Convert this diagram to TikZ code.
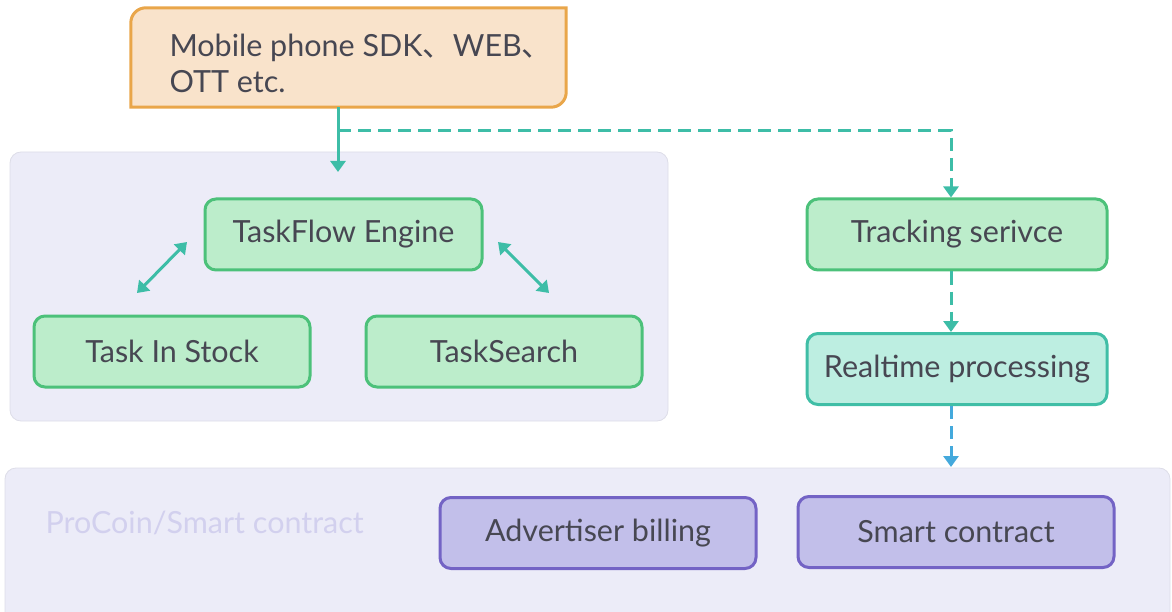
\documentclass[tikz,border=0pt]{standalone}
\usepackage{fontspec}
\setmainfont{Lato}
\newfontfamily\cjk{Noto Sans CJK SC}
\usetikzlibrary{arrows.meta}
\definecolor{txtgray}{HTML}{474752}
\definecolor{srcfill}{HTML}{F9E3CB}
\definecolor{srcline}{HTML}{E9A64A}
\definecolor{panfill}{HTML}{ECECF8}
\definecolor{panline}{HTML}{DDDDE8}
\definecolor{grnfill}{HTML}{BCEDCB}
\definecolor{grnline}{HTML}{4CC17A}
\definecolor{tealfill}{HTML}{BDEEE1}
\definecolor{tealline}{HTML}{40BEA6}
\definecolor{purfill}{HTML}{C2BFEA}
\definecolor{purline}{HTML}{7363C5}
\definecolor{arrteal}{HTML}{3DBDA7}
\definecolor{arrblue}{HTML}{44A9DC}
\definecolor{paneltxt}{HTML}{D2D0EE}
\tikzset{
  every node/.style={font=\fontsize{30.5}{36}\selectfont,text=txtgray},
  grnbox/.style={draw=grnline,fill=grnfill,line width=3pt,rounded corners=11pt,
    minimum width=#1,minimum height=71pt,inner sep=0pt},
  tealbox/.style={grnbox=#1,draw=tealline,fill=tealfill},
  purbox/.style={grnbox=#1,draw=purline,fill=purfill},
  panel/.style={draw=panline,fill=panfill,line width=0.8pt,rounded corners=11pt},
  flow/.style={draw=arrteal,line width=3pt,-{Triangle[length=11pt,width=15pt]}},
  dflow/.style={flow,dash pattern=on 13pt off 7pt},
  both/.style={flow,{Triangle[length=11pt,width=15pt]}-{Triangle[length=11pt,width=15pt]}}
}
\begin{document}
\begin{tikzpicture}[x=1pt,y=-1pt]
\useasboundingbox (0,0) rectangle (1172,612);

% panels
\draw[panel] (10,152) rectangle (668,421);
\draw[panel] (5,468) rectangle (1170,625);

% source box
\node[minimum width=435pt,minimum height=99pt,inner sep=0pt] (src) at (348.5,57.5) {};
\fill[srcfill,draw=srcline,line width=3pt] (src.south west) -- ([yshift=-15pt]src.north west)
  arc[start angle=180,end angle=90,radius=15pt] -- (src.north east)
  -- ([yshift=15pt]src.south east) arc[start angle=0,end angle=-90,radius=15pt] -- cycle;
\node[anchor=north west,align=left] (srctxt) at (166,31) {Mobile phone SDK{\cjk 、}WEB{\cjk 、}\\OTT etc.};

% left part
\node[grnbox=277pt] (engine) at (343.5,234.5) {TaskFlow Engine};
\node[grnbox=276pt] (stock) at (172,351.5) {Task In Stock};
\node[grnbox=276pt] (search) at (504,351.5) {TaskSearch};

% right part
\node[grnbox=300pt] (track) at (957,234.5) {Tracking serivce};
\node[tealbox=300pt] (rt) at (957,369) {Realtime processing};

% bottom part
\node[anchor=west,text=paneltxt] (pclabel) at (42,523) {ProCoin/Smart contract};
\node[purbox=316pt] (billing) at (598,533) {Advertiser billing};
\node[purbox=316pt] (contract) at (956,532) {Smart contract};

% connectors
\coordinate (branch) at (338,131);
\coordinate (paneltop) at (338,172);
\coordinate (billtop) at (951,467);
\coordinate (la) at (187,242);
\coordinate (lb) at (137,293);
\coordinate (ra) at (498,242);
\coordinate (rb) at (549,293);
\draw[flow] (src.south -| branch) -- (paneltop);
\draw[dflow] (branch) -| ([xshift=-6pt]track.north);
\draw[dflow] ([xshift=-6pt]track.south) -- ([xshift=-6pt]rt.north);
\draw[dflow,draw=arrblue] ([xshift=-6pt]rt.south) -- (billtop);
\draw[both] (la) -- (lb);
\draw[both] (ra) -- (rb);

\end{tikzpicture}
\end{document}
